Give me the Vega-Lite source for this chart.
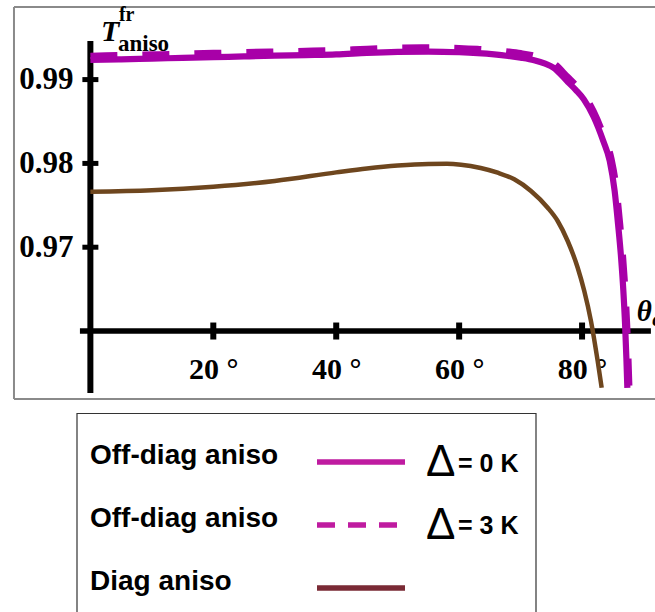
{
  "$schema": "https://vega.github.io/schema/vega-lite/v6.json",
  "padding": {"left": 12, "top": 5, "right": 0, "bottom": 0},
  "spacing": 11,
  "config": {"view": {"stroke": null}, "axis": {"grid": false, "domain": false, "ticks": false}},
  "resolve": {"scale": {"color": "independent", "strokeDash": "independent"}},
  "vconcat": [
    {
      "width": 643,
      "height": 394,
      "layer": [
        {
          "data": {"values": [{"a": 0}]},
          "mark": {"type": "rule", "color": "#8a8a8a", "strokeWidth": 2},
          "encoding": {
            "x": {"datum": -12.43, "type": "quantitative"},
            "x2": {"datum": 92.03},
            "y": {"datum": 0.99866, "type": "quantitative"}
          }
        },
        {
          "data": {"values": [{"a": 0}]},
          "mark": {"type": "rule", "color": "#8a8a8a", "strokeWidth": 2},
          "encoding": {
            "x": {"datum": -12.43, "type": "quantitative"},
            "x2": {"datum": 92.03},
            "y": {"datum": 0.95189, "type": "quantitative"}
          }
        },
        {
          "data": {"values": [{"a": 0}]},
          "mark": {"type": "rule", "color": "#8a8a8a", "strokeWidth": 2},
          "encoding": {
            "x": {"datum": -12.43, "type": "quantitative"},
            "y": {"datum": 0.95189, "type": "quantitative"},
            "y2": {"datum": 0.99866}
          }
        },
        {
          "data": {"values": [{"a": 0}]},
          "mark": {"type": "rule", "color": "black", "strokeWidth": 6},
          "encoding": {
            "x": {"datum": 0, "type": "quantitative"},
            "y": {"datum": 0.9526, "type": "quantitative"},
            "y2": {"datum": 0.99461}
          }
        },
        {
          "data": {"values": [{"a": 0}]},
          "mark": {"type": "rule", "color": "black", "strokeWidth": 5.5},
          "encoding": {
            "x": {"datum": -1.7, "type": "quantitative"},
            "x2": {"datum": 91.2},
            "y": {"datum": 0.96, "type": "quantitative"}
          }
        },
        {
          "data": {"values": [{"v": 0.97}, {"v": 0.98}, {"v": 0.99}]},
          "mark": {"type": "tick", "orient": "horizontal", "size": 16, "thickness": 5, "color": "black", "opacity": 1},
          "encoding": {
            "x": {"datum": 0, "type": "quantitative"},
            "y": {"field": "v", "type": "quantitative"}
          }
        },
        {
          "data": {"values": [{"d": 20}, {"d": 40}, {"d": 60}, {"d": 80}]},
          "mark": {"type": "tick", "orient": "vertical", "size": 17, "thickness": 6, "color": "black", "opacity": 1},
          "encoding": {
            "x": {"field": "d", "type": "quantitative"},
            "y": {"datum": 0.96, "type": "quantitative"}
          }
        },
        {
          "data": {"values": [
            {"theta": 0, "T": 0.97662}, {"theta": 10, "T": 0.97680}, {"theta": 20, "T": 0.97722},
            {"theta": 30, "T": 0.97790}, {"theta": 40, "T": 0.97893}, {"theta": 45, "T": 0.97940},
            {"theta": 50, "T": 0.97975}, {"theta": 55, "T": 0.97994}, {"theta": 58, "T": 0.97996},
            {"theta": 60.3, "T": 0.97985}, {"theta": 63.5, "T": 0.97945}, {"theta": 66.27, "T": 0.97889},
            {"theta": 68.97, "T": 0.97810}, {"theta": 71.69, "T": 0.97671}, {"theta": 74.41, "T": 0.97471},
            {"theta": 76.03, "T": 0.97313}, {"theta": 77.66, "T": 0.97074}, {"theta": 79.29, "T": 0.96755},
            {"theta": 80.36, "T": 0.96477}, {"theta": 81.45, "T": 0.96119}, {"theta": 82.54, "T": 0.95642},
            {"theta": 83.19, "T": 0.95323}
          ]},
          "mark": {"type": "line", "color": "#6E461E", "strokeWidth": 4.5, "interpolate": "monotone"},
          "encoding": {
            "x": {"field": "theta", "type": "quantitative"},
            "y": {"field": "T", "type": "quantitative"}
          }
        },
        {
          "data": {"values": [
            {"theta": 0, "T": 0.99234}, {"theta": 5, "T": 0.99241}, {"theta": 10, "T": 0.99250},
            {"theta": 15, "T": 0.99259}, {"theta": 20, "T": 0.99268}, {"theta": 25, "T": 0.99276},
            {"theta": 30, "T": 0.99285}, {"theta": 35, "T": 0.99292}, {"theta": 40, "T": 0.99300},
            {"theta": 45, "T": 0.99318}, {"theta": 50, "T": 0.99330}, {"theta": 55, "T": 0.99334},
            {"theta": 60, "T": 0.99326}, {"theta": 63, "T": 0.99315}, {"theta": 65.7, "T": 0.99300},
            {"theta": 68, "T": 0.99282}, {"theta": 70, "T": 0.99262}, {"theta": 72.2, "T": 0.99232},
            {"theta": 74, "T": 0.99190}, {"theta": 75.4, "T": 0.99140}, {"theta": 77.7, "T": 0.98971},
            {"theta": 79, "T": 0.98875}, {"theta": 80.3, "T": 0.98763}, {"theta": 81.9, "T": 0.98554},
            {"theta": 83.45, "T": 0.98267}, {"theta": 84.5, "T": 0.98029}, {"theta": 85.3, "T": 0.97671},
            {"theta": 85.86, "T": 0.97273}, {"theta": 86.35, "T": 0.96875}, {"theta": 86.72, "T": 0.96477},
            {"theta": 87.0, "T": 0.96079}, {"theta": 87.21, "T": 0.95680}, {"theta": 87.37, "T": 0.95322}
          ]},
          "mark": {"type": "line", "color": "#A800A8", "strokeWidth": 6.2, "interpolate": "monotone"},
          "encoding": {
            "x": {
              "field": "theta", "type": "quantitative",
              "scale": {"domain": [-12.59, 92.03], "nice": false, "zero": false},
              "axis": {
                "values": [20, 40, 60, 80], "labelExpr": "datum.value + ' °'", "offset": -69,
                "labelPadding": 23, "labelFont": "Liberation Serif", "labelFontWeight": "bold",
                "labelFontSize": 30, "labelColor": "black", "title": null, "labelFlush": false,
                "labelOverlap": false
              }
            },
            "y": {
              "field": "T", "type": "quantitative",
              "scale": {"domain": [0.95177, 0.99878], "nice": false, "zero": false},
              "axis": {
                "values": [0.97, 0.98, 0.99], "format": ".2f", "offset": -78, "labelPadding": 18,
                "labelFont": "Liberation Serif", "labelFontWeight": "bold", "labelFontSize": 31,
                "labelColor": "black", "labelBaseline": "middle", "title": null, "labelFlush": false,
                "labelOverlap": false
              }
            }
          }
        },
        {
          "data": {"values": [
            {"theta": 0, "T": 0.99284}, {"theta": 5, "T": 0.99292}, {"theta": 10, "T": 0.99300},
            {"theta": 15, "T": 0.99309}, {"theta": 20, "T": 0.99318}, {"theta": 25, "T": 0.99327},
            {"theta": 30, "T": 0.99335}, {"theta": 35, "T": 0.99343}, {"theta": 40, "T": 0.99352},
            {"theta": 45, "T": 0.99368}, {"theta": 50, "T": 0.99380}, {"theta": 55, "T": 0.99384},
            {"theta": 60, "T": 0.99377}, {"theta": 63, "T": 0.99366}, {"theta": 65.7, "T": 0.99352},
            {"theta": 68, "T": 0.99334}, {"theta": 70, "T": 0.99315}, {"theta": 72.2, "T": 0.99286},
            {"theta": 74, "T": 0.99245}, {"theta": 75.4, "T": 0.99196}, {"theta": 77.7, "T": 0.99030},
            {"theta": 79, "T": 0.98935}, {"theta": 80.3, "T": 0.98825}, {"theta": 81.9, "T": 0.98620},
            {"theta": 83.7, "T": 0.98300}, {"theta": 84.8, "T": 0.98050}, {"theta": 85.62, "T": 0.97690},
            {"theta": 86.2, "T": 0.97273}, {"theta": 86.68, "T": 0.96875}, {"theta": 87.05, "T": 0.96477},
            {"theta": 87.33, "T": 0.96079}, {"theta": 87.54, "T": 0.95680}, {"theta": 87.7, "T": 0.95322}
          ]},
          "mark": {"type": "line", "color": "#A800A8", "strokeWidth": 6.2, "strokeDash": [27, 25], "interpolate": "monotone"},
          "encoding": {
            "x": {"field": "theta", "type": "quantitative"},
            "y": {"field": "T", "type": "quantitative"}
          }
        },
        {
          "data": {"values": [{"a": 0}]},
          "mark": {"type": "text", "text": "T", "font": "Liberation Serif", "fontStyle": "italic", "fontWeight": "bold", "fontSize": 30, "align": "left", "baseline": "alphabetic", "color": "black"},
          "encoding": {
            "x": {"datum": 1.72, "type": "quantitative"},
            "y": {"datum": 0.99461, "type": "quantitative"}
          }
        },
        {
          "data": {"values": [{"a": 0}]},
          "mark": {"type": "text", "text": "fr", "font": "Liberation Serif", "fontWeight": "bold", "fontSize": 20, "align": "left", "baseline": "alphabetic", "color": "black"},
          "encoding": {
            "x": {"datum": 4.65, "type": "quantitative"},
            "y": {"datum": 0.99699, "type": "quantitative"}
          }
        },
        {
          "data": {"values": [{"a": 0}]},
          "mark": {"type": "text", "text": "aniso", "font": "Liberation Serif", "fontWeight": "bold", "fontSize": 23, "align": "left", "baseline": "alphabetic", "color": "black"},
          "encoding": {
            "x": {"datum": 4.49, "type": "quantitative"},
            "y": {"datum": 0.99341, "type": "quantitative"}
          }
        },
        {
          "data": {"values": [{"a": 0}]},
          "mark": {"type": "text", "text": "θ", "font": "Liberation Serif", "fontStyle": "italic", "fontWeight": "bold", "fontSize": 29, "align": "left", "baseline": "alphabetic", "color": "black", "clip": true},
          "encoding": {
            "x": {"datum": 88.9, "type": "quantitative"},
            "y": {"datum": 0.96119, "type": "quantitative"}
          }
        },
        {
          "data": {"values": [{"a": 0}]},
          "mark": {"type": "text", "text": "c", "font": "Liberation Serif", "fontStyle": "italic", "fontWeight": "bold", "fontSize": 20, "align": "left", "baseline": "alphabetic", "color": "black", "clip": true},
          "encoding": {
            "x": {"datum": 91.4, "type": "quantitative"},
            "y": {"datum": 0.9606, "type": "quantitative"}
          }
        }
      ]
    },
    {
      "width": 643,
      "height": 201,
      "data": {"values": [
        {"row": 1, "label": "Off-diag aniso", "delta": "Δ", "unit": "= 0 K", "series": "Off-diag aniso, Δ = 0 K"},
        {"row": 2, "label": "Off-diag aniso", "delta": "Δ", "unit": "= 3 K", "series": "Off-diag aniso, Δ = 3 K"},
        {"row": 3, "label": "Diag aniso", "delta": "", "unit": "", "series": "Diag aniso"}
      ]},
      "layer": [
        {
          "data": {"values": [{"a": 0}]},
          "mark": {"type": "rect", "fill": null, "stroke": "#333333", "strokeWidth": 1.2},
          "encoding": {
            "x": {"datum": 64, "type": "quantitative", "scale": {"domain": [0, 643], "nice": false, "zero": false}, "axis": null},
            "x2": {"datum": 523},
            "y": {"datum": 0.23, "type": "quantitative", "scale": {"domain": [0.222, 3.413], "nice": false, "zero": false, "reverse": true}, "axis": null},
            "y2": {"datum": 3.40}
          }
        },
        {
          "mark": {"type": "rule", "strokeWidth": 5.5},
          "encoding": {
            "x": {"datum": 304, "type": "quantitative"},
            "x2": {"datum": 392},
            "y": {"field": "row", "type": "quantitative"},
            "color": {"field": "series", "type": "nominal", "scale": {"domain": ["Off-diag aniso, Δ = 0 K", "Off-diag aniso, Δ = 3 K", "Diag aniso"], "range": ["#BF1BA0", "#BF1BA0", "#7A2A35"]}, "legend": null},
            "strokeDash": {"field": "series", "type": "nominal", "scale": {"domain": ["Off-diag aniso, Δ = 0 K", "Off-diag aniso, Δ = 3 K", "Diag aniso"], "range": [[1, 0], [18, 13], [1, 0]]}, "legend": null}
          }
        },
        {
          "mark": {"type": "text", "font": "Liberation Sans", "fontWeight": "bold", "fontSize": 28, "align": "left", "baseline": "alphabetic", "dy": 2, "color": "black"},
          "encoding": {
            "x": {"datum": 77, "type": "quantitative"},
            "y": {"field": "row", "type": "quantitative"},
            "text": {"field": "label"}
          }
        },
        {
          "mark": {"type": "text", "font": "Liberation Sans", "fontSize": 44, "align": "left", "baseline": "alphabetic", "dy": 14, "color": "black"},
          "encoding": {
            "x": {"datum": 413, "type": "quantitative"},
            "y": {"field": "row", "type": "quantitative"},
            "text": {"field": "delta"}
          }
        },
        {
          "mark": {"type": "text", "font": "Liberation Sans", "fontWeight": "bold", "fontSize": 25, "align": "left", "baseline": "alphabetic", "dy": 9.5, "color": "black"},
          "encoding": {
            "x": {"datum": 445, "type": "quantitative"},
            "y": {"field": "row", "type": "quantitative"},
            "text": {"field": "unit"}
          }
        }
      ]
    }
  ]
}
